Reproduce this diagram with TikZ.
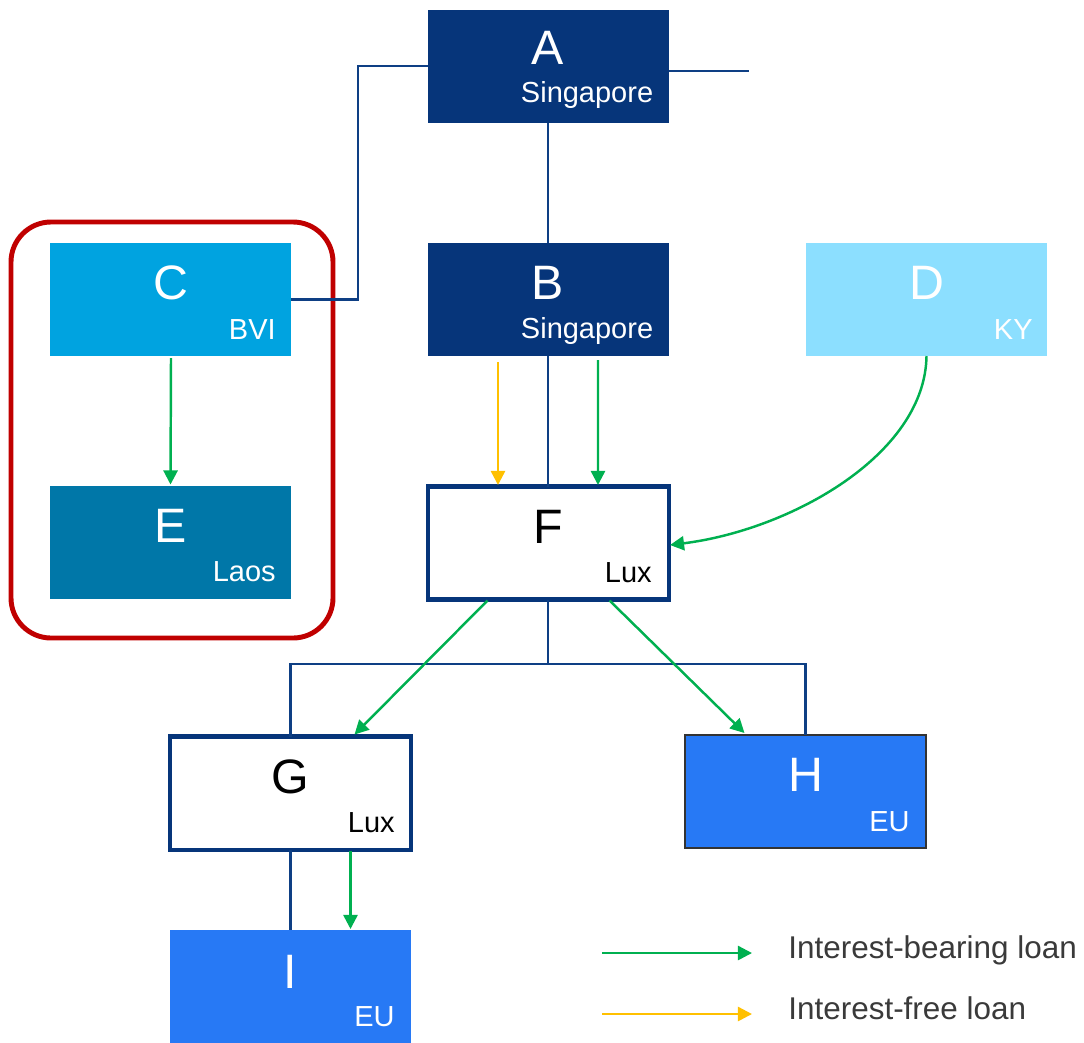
\documentclass[tikz,border=0pt]{standalone}
\usepackage{fontspec}
\setmainfont{Liberation Sans}
\usetikzlibrary{arrows.meta}
\definecolor{navy}{HTML}{06357A}
\definecolor{linknavy}{HTML}{0E3F84}
\definecolor{cyanC}{HTML}{00A3E0}
\definecolor{skyD}{HTML}{8CDFFF}
\definecolor{tealE}{HTML}{0077A8}
\definecolor{blueEU}{HTML}{2779F5}
\definecolor{redframe}{HTML}{C00000}
\definecolor{loangreen}{HTML}{00B050}
\definecolor{loanorange}{HTML}{FFC000}
\definecolor{legendtext}{HTML}{3A3A3A}
\tikzset{
  entity/.style={rectangle, minimum width=241*0.02cm, minimum height=113*0.02cm, inner sep=0pt, outer sep=0pt},
  whitebox/.style={entity, fill=white, draw=navy, line width=2.3pt},
  bigletter/.style={font=\fontsize{27.5}{30}\selectfont, inner sep=0pt},
  place/.style={font=\fontsize{16.5}{19}\selectfont, inner sep=0pt, anchor=base east},
  link/.style={draw=linknavy, line width=1.5pt},
  ibloan/.style={draw=loangreen, line width=1.4pt, -{Triangle[length=8pt,width=8pt]}},
  ifloan/.style={draw=loanorange, line width=1.4pt, -{Triangle[length=8pt,width=8pt]}},
}
\begin{document}
\begin{tikzpicture}[x=0.02cm,y=-0.02cm]
\useasboundingbox (0,0) rectangle (1084,1042);

% group frame around C and E
\draw[redframe, line width=2.8pt, rounded corners=40*0.02cm] (11,222) rectangle (333,638);

% entity boxes
\node[entity, fill=navy]   (A) at (548,66)  {};
\node[entity, fill=navy]   (B) at (548,299.5) {};
\node[entity, fill=cyanC]  (C) at (170.5,299.5) {};
\node[entity, fill=skyD]   (D) at (926.5,299.5) {};
\node[entity, fill=tealE]  (E) at (170.5,542) {};
\node[whitebox]            (F) at (548.5,543) {};
\node[whitebox]            (G) at (290.5,793) {};
\node[entity, fill=blueEU, draw=black!80, line width=1.2pt] (H) at (805.5,791.5) {};
\node[entity, fill=blueEU] (I) at (290.5,986.5) {};

% box labels
\node[bigletter, white] (Aname) at ([yshift=-38*0.02cm]A.north) {A};
\node[place, white]     (Aloc)  at ([xshift=-15*0.02cm,yshift=-93*0.02cm]A.north east) {Singapore};
\node[bigletter, white] (Bname) at ([yshift=-40*0.02cm]B.north) {B};
\node[place, white]     (Bloc)  at ([xshift=-15*0.02cm,yshift=-95*0.02cm]B.north east) {Singapore};
\node[bigletter, white] (Cname) at ([yshift=-40*0.02cm]C.north) {C};
\node[place, white]     (Cloc)  at ([xshift=-15*0.02cm,yshift=-96*0.02cm]C.north east) {BVI};
\node[bigletter, white] (Dname) at ([yshift=-40*0.02cm]D.north) {D};
\node[place, white]     (Dloc)  at ([xshift=-14*0.02cm,yshift=-96*0.02cm]D.north east) {KY};
\node[bigletter, white] (Ename) at ([yshift=-40*0.02cm]E.north) {E};
\node[place, white]     (Eloc)  at ([xshift=-15*0.02cm,yshift=-96*0.02cm]E.north east) {Laos};
\node[bigletter, black] (Fname) at ([yshift=-40*0.02cm]F.north) {F};
\node[place, black]     (Floc)  at ([xshift=-17*0.02cm,yshift=-96*0.02cm]F.north east) {Lux};
\node[bigletter, black] (Gname) at ([yshift=-40*0.02cm]G.north) {G};
\node[place, black]     (Gloc)  at ([xshift=-16*0.02cm,yshift=-96*0.02cm]G.north east) {Lux};
\node[bigletter, white] (Hname) at ([yshift=-40*0.02cm]H.north) {H};
\node[place, white]     (Hloc)  at ([xshift=-16*0.02cm,yshift=-96*0.02cm]H.north east) {EU};
\node[bigletter, white] (Iname) at ([yshift=-42*0.02cm]I.north) {I};
\node[place, white]     (Iloc)  at ([xshift=-16*0.02cm,yshift=-96*0.02cm]I.north east) {EU};

% ownership links
\coordinate (Aright) at (749,71);
\draw[link] (A.west) -- (358,66) |- (C.east);
\draw[link] ([yshift=-5*0.02cm]A.east) -- (Aright);
\draw[link] (A.south) -- (B.north);
\draw[link] (B.south) -- (F.north -| B.south);
\coordinate (Fsplit) at (548,664);
\draw[link] (F.south -| Fsplit) -- (Fsplit);
\draw[link] (G.north) |- (Fsplit) -| (H.north);
\draw[link] (G.south) -- (I.north);

% loans
\draw[ibloan] ([xshift=0.5*0.02cm,yshift=-2*0.02cm]C.south) -- ([yshift=1*0.02cm]E.north);
\draw[ifloan] ([xshift=-50*0.02cm,yshift=-6*0.02cm]B.south) -- ([xshift=-50.5*0.02cm,yshift=1.5*0.02cm]F.north);
\draw[ibloan] ([xshift=50*0.02cm,yshift=-4*0.02cm]B.south) -- ([xshift=49.5*0.02cm,yshift=1.5*0.02cm]F.north);
\draw[ibloan] (D.south) .. controls (925,455) and (790,530) .. ([xshift=1*0.02cm,yshift=-2*0.02cm]F.east);
\draw[ibloan] ([xshift=-61*0.02cm,yshift=-1*0.02cm]F.south) -- ([xshift=64*0.02cm,yshift=2*0.02cm]G.north);
\draw[ibloan] ([xshift=61*0.02cm,yshift=-1*0.02cm]F.south) -- ([xshift=-61*0.02cm,yshift=2*0.02cm]H.north);
\draw[ibloan] ([xshift=60*0.02cm,yshift=-1*0.02cm]G.south) -- ([xshift=60*0.02cm,yshift=1*0.02cm]I.north);

% legend
\coordinate (L1a) at (602,953);
\coordinate (L1b) at (752,953);
\coordinate (L2a) at (602,1014);
\coordinate (L2b) at (752,1014);
\draw[ibloan] (L1a) -- (L1b);
\draw[ifloan] (L2a) -- (L2b);
\node[anchor=base west, inner sep=0pt, text=legendtext, font=\fontsize{17.9}{20}\selectfont] (L1t) at (788,958) {Interest-bearing loan};
\node[anchor=base west, inner sep=0pt, text=legendtext, font=\fontsize{17.9}{20}\selectfont] (L2t) at (788,1019) {Interest-free loan};
\end{tikzpicture}
\end{document}
